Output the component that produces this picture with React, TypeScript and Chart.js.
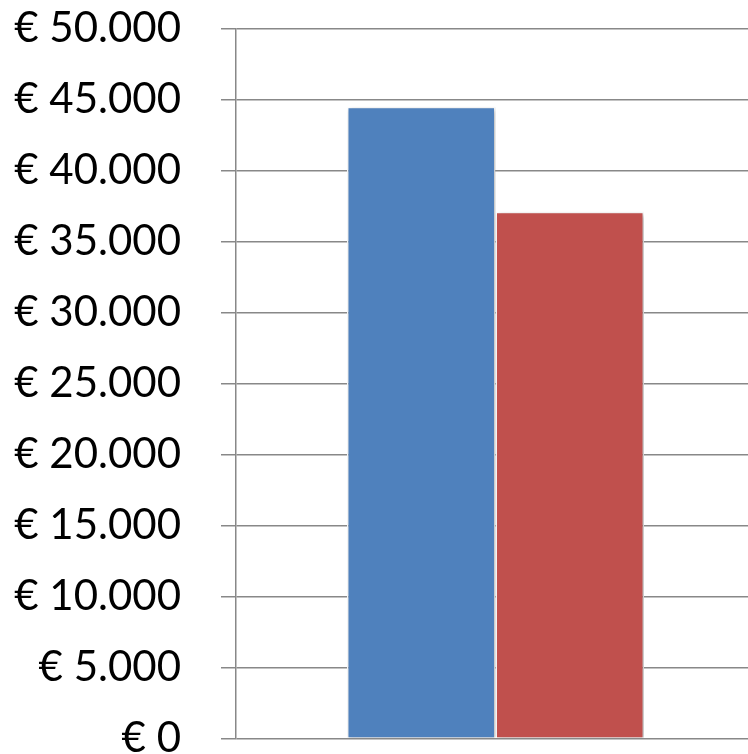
import React, { useEffect, useRef } from "react";
import { Chart, registerables } from "chart.js";

Chart.register(...registerables);

const categories = [""];
const seriesNames = ["Serie 1", "Serie 2"];
const seriesBlue = [44500];
const seriesRed = [37100];
const yMin = 0;
const yMax = 50000;
const yStep = 5000;

const fmtEuro = (v: number) =>
  "€ " + String(Math.round(v)).replace(/\B(?=(\d{3})+(?!\d))/g, ".");

const shadowPlugin = {
  id: "barShadow",
  beforeDatasetsDraw(chart: any) {
    const ctx = chart.ctx;
    ctx.save();
    ctx.shadowColor = "rgba(0,0,0,0.28)";
    ctx.shadowBlur = 5;
    ctx.shadowOffsetX = 2;
    ctx.shadowOffsetY = 2;
  },
  afterDatasetsDraw(chart: any) {
    chart.ctx.restore();
  },
};

export default function App() {
  const ref = useRef<HTMLCanvasElement | null>(null);
  useEffect(() => {
    if (!ref.current) return;
    const chart = new Chart(ref.current, {
      type: "bar",
      data: {
        labels: categories,
        datasets: [
          {
            label: seriesNames[0],
            data: seriesBlue,
            backgroundColor: "#4F81BD",
            borderColor: "#FFFFFF",
            borderWidth: 1.5,
          },
          {
            label: seriesNames[1],
            data: seriesRed,
            backgroundColor: "#C0504D",
            borderColor: "#FFFFFF",
            borderWidth: 1.5,
          },
        ],
      },
      plugins: [shadowPlugin],
      options: {
        animation: false,
        responsive: false,
        maintainAspectRatio: false,
        layout: { padding: 0 },
        plugins: { legend: { display: false }, tooltip: { enabled: false } },
        datasets: { bar: { barPercentage: 1, categoryPercentage: 0.5723 } },
        scales: {
          x: {
            display: false,
            grid: { display: false },
          },
          y: {
            min: yMin,
            max: yMax,
            ticks: {
              stepSize: yStep,
              padding: 40,
              color: "#000000",
              font: { family: "Lato", size: 42, lineHeight: 0.75 },
              callback: (v: any) => fmtEuro(Number(v)),
            },
            grid: {
              color: "#888888",
              lineWidth: 1.5,
              tickLength: 15,
              drawTicks: true,
            },
            border: { display: true, color: "#888888", width: 1.5 },
            afterFit: (scale: any) => {
              scale.width = 236;
            },
          },
        },
      },
    } as any);
    return () => chart.destroy();
  }, []);
  return (
    <div style={{ position: "fixed", left: 0, top: 0, width: 748, height: 754, overflow: "hidden", background: "#fff" }}>
      <canvas
        ref={ref}
        width={755}
        height={821}
        style={{ display: "block", position: "absolute", left: 0, top: -27 }}
      />
    </div>
  );
}
